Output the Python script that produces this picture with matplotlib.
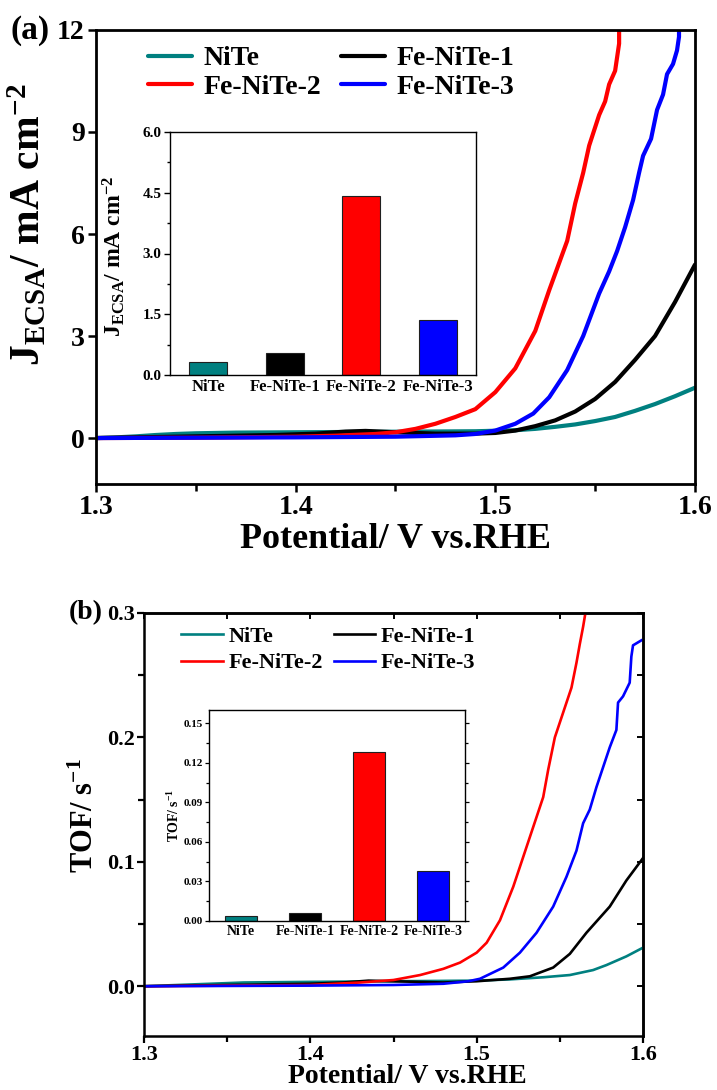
import numpy as np
import matplotlib
matplotlib.use("Agg")
import matplotlib.pyplot as plt
from matplotlib.ticker import MultipleLocator, FormatStrFormatter, NullFormatter

plt.rcParams['font.family'] = ['Liberation Serif', 'DejaVu Serif']
plt.rcParams['font.weight'] = 'bold'
plt.rcParams['axes.labelweight'] = 'bold'
plt.rcParams['mathtext.fontset'] = 'custom'
plt.rcParams['mathtext.rm'] = 'Liberation Serif:bold'
plt.rcParams['mathtext.bf'] = 'Liberation Serif:bold'
plt.rcParams['mathtext.it'] = 'Liberation Serif:bold'

names = ['NiTe', 'Fe-NiTe-1', 'Fe-NiTe-2', 'Fe-NiTe-3']
colors = ['#008080', '#000000', '#ff0000', '#0000ff']

# (a) J_ECSA curves
niTe_a_x = [1.300, 1.310, 1.320, 1.330, 1.340, 1.350, 1.370, 1.400, 1.430, 1.460, 1.490,
            1.510, 1.520, 1.530, 1.540, 1.550, 1.560, 1.570, 1.580, 1.590, 1.600]
niTe_a_y = [0.00, 0.02, 0.05, 0.09, 0.12, 0.14, 0.16, 0.17, 0.18, 0.19, 0.20,
            0.23, 0.27, 0.33, 0.40, 0.50, 0.62, 0.80, 1.00, 1.23, 1.48]
fe1_a_x = [1.300, 1.330, 1.360, 1.390, 1.410, 1.425, 1.435, 1.450, 1.470, 1.490, 1.500,
           1.510, 1.520, 1.530, 1.540, 1.550, 1.560, 1.570, 1.580, 1.590, 1.600]
fe1_a_y = [0.00, 0.03, 0.06, 0.09, 0.13, 0.19, 0.21, 0.17, 0.13, 0.13, 0.15,
           0.22, 0.35, 0.52, 0.78, 1.15, 1.65, 2.30, 3.00, 4.00, 5.10]
fe2_a_x = [1.300, 1.350, 1.400, 1.420, 1.440, 1.450, 1.460, 1.470, 1.480, 1.490, 1.500,
           1.510, 1.520, 1.527, 1.536, 1.540, 1.544, 1.547, 1.552, 1.555, 1.557, 1.560,
           1.561, 1.562, 1.562]
fe2_a_y = [0.00, 0.01, 0.04, 0.07, 0.12, 0.17, 0.27, 0.42, 0.62, 0.85, 1.35,
           2.05, 3.15, 4.35, 5.80, 6.90, 7.80, 8.60, 9.50, 9.90, 10.40, 10.80,
           11.20, 11.60, 12.50]
fe3_a_x = [1.300, 1.350, 1.400, 1.450, 1.480, 1.490, 1.500, 1.510, 1.519, 1.527, 1.536,
           1.544, 1.552, 1.557, 1.561, 1.565, 1.569, 1.572, 1.574, 1.578, 1.581, 1.584,
           1.586, 1.589, 1.591, 1.592, 1.592]
fe3_a_y = [0.00, 0.01, 0.02, 0.04, 0.08, 0.12, 0.22, 0.42, 0.72, 1.20, 2.00,
           3.00, 4.25, 4.90, 5.50, 6.20, 7.00, 7.80, 8.30, 8.80, 9.65, 10.10,
           10.70, 11.00, 11.40, 11.80, 12.50]

# (b) TOF curves
niTe_b_x = [1.300, 1.320, 1.340, 1.360, 1.400, 1.450, 1.500, 1.520, 1.540, 1.556, 1.570,
            1.578, 1.590, 1.600]
niTe_b_y = [0.000, 0.001, 0.002, 0.003, 0.0035, 0.004, 0.0045, 0.0055, 0.0072, 0.009, 0.013,
            0.017, 0.024, 0.031]
fe1_b_x = [1.300, 1.350, 1.400, 1.420, 1.435, 1.450, 1.480, 1.500, 1.520, 1.532, 1.546,
           1.556, 1.566, 1.580, 1.590, 1.600]
fe1_b_y = [0.000, 0.001, 0.002, 0.003, 0.0045, 0.004, 0.003, 0.004, 0.006, 0.008, 0.015,
           0.026, 0.043, 0.064, 0.085, 0.103]
fe2_b_x = [1.300, 1.400, 1.430, 1.450, 1.466, 1.480, 1.490, 1.500, 1.506, 1.514, 1.522,
           1.530, 1.536, 1.540, 1.543, 1.547, 1.552, 1.557, 1.560, 1.562, 1.564, 1.566]
fe2_b_y = [0.000, 0.001, 0.003, 0.005, 0.009, 0.014, 0.019, 0.027, 0.035, 0.053, 0.080,
           0.112, 0.136, 0.152, 0.174, 0.200, 0.220, 0.240, 0.260, 0.275, 0.289, 0.305]
fe3_b_x = [1.300, 1.400, 1.450, 1.480, 1.495, 1.502, 1.516, 1.526, 1.536, 1.546, 1.554,
           1.560, 1.564, 1.568, 1.572, 1.576, 1.580, 1.584, 1.585, 1.588, 1.592, 1.593,
           1.594, 1.599]
fe3_b_y = [0.000, 0.0005, 0.001, 0.002, 0.004, 0.006, 0.015, 0.027, 0.043, 0.064, 0.088,
           0.109, 0.131, 0.142, 0.160, 0.176, 0.192, 0.206, 0.228, 0.233, 0.244, 0.265,
           0.274, 0.278]

# inset bars
jecsa_bars = [0.32, 0.54, 4.42, 1.36]
tof_bars = [0.004, 0.006, 0.128, 0.038]

curves_a = [(niTe_a_x, niTe_a_y), (fe1_a_x, fe1_a_y), (fe2_a_x, fe2_a_y), (fe3_a_x, fe3_a_y)]
curves_b = [(niTe_b_x, niTe_b_y), (fe1_b_x, fe1_b_y), (fe2_b_x, fe2_b_y), (fe3_b_x, fe3_b_y)]

fig = plt.figure(figsize=(7.17, 10.90), dpi=100)

# ---------- panel (a) ----------
axa = fig.add_axes([0.1339, 0.556, 0.8354, 0.4165])
lines = []
for (x, y), c, n in zip(curves_a, colors, names):
    l, = axa.plot(x, y, color=c, lw=3.0, label=n, solid_capstyle='round')
    lines.append(l)
axa.set_xlim(1.3, 1.6)
axa.set_ylim(-1.35, 12)
axa.set_xticks([1.3, 1.4, 1.5, 1.6])
axa.xaxis.set_minor_locator(MultipleLocator(0.05))
axa.set_yticks([0, 3, 6, 9, 12])
axa.tick_params(axis='both', which='major', labelsize=20, length=6, width=1.8, direction='out', pad=2)
axa.tick_params(axis='x', which='minor', length=5, width=1.8, direction='out')
for s in axa.spines.values():
    s.set_linewidth(2.0)
axa.set_xlabel('Potential/ V vs.RHE', fontsize=26)
axa.xaxis.set_label_coords(0.5, -0.086)
axa.set_ylabel(r'$\mathrm{J_{ECSA}}$/ mA cm$^{\mathrm{-2}}$', fontsize=30)
axa.yaxis.set_label_coords(-0.078, 0.57)
order = [0, 2, 1, 3]
axa.legend([lines[i] for i in order], [names[i] for i in order], ncol=2, frameon=False,
           loc='upper left', bbox_to_anchor=(0.045, 1.02), fontsize=20,
           handlelength=1.6, handletextpad=0.4, columnspacing=0.7, labelspacing=0.1)
fig.text(10 / 717, 1 - 30 / 1090, '(a)', fontsize=24, fontweight='bold', va='center', ha='left')

# inset (a)
ia = fig.add_axes([170 / 717, 1 - 375 / 1090, 306 / 717, 243 / 1090])
ia.bar(range(4), jecsa_bars, width=0.5, color=colors, edgecolor='#202020', linewidth=0.8)
ia.set_xlim(-0.5, 3.5)
ia.set_ylim(0, 6)
ia.set_yticks([0, 1.5, 3.0, 4.5, 6.0])
ia.yaxis.set_major_formatter(FormatStrFormatter('%.1f'))
ia.yaxis.set_minor_locator(MultipleLocator(0.75))
ia.set_xticks(range(4))
ia.set_xticklabels(names)
ia.tick_params(axis='x', length=0, labelsize=12, pad=3)
ia.tick_params(axis='y', which='major', labelsize=11, length=4, width=1.0, pad=2)
ia.tick_params(axis='y', which='minor', length=2.5, width=1.0)
for s in ia.spines.values():
    s.set_linewidth(1.0)
ia.set_ylabel(r'$\mathrm{J_{ECSA}}$/ mA cm$^{\mathrm{-2}}$', fontsize=17)
ia.yaxis.set_label_coords(-0.14, 0.49)

# ---------- panel (b) ----------
axb = fig.add_axes([144 / 717, 1 - 1036 / 1090, 499 / 717, 423 / 1090])
lines = []
for (x, y), c, n in zip(curves_b, colors, names):
    l, = axb.plot(x, y, color=c, lw=1.9, label=n)
    lines.append(l)
axb.set_xlim(1.3, 1.6)
axb.set_ylim(-0.04, 0.3)
axb.set_xticks([1.3, 1.4, 1.5, 1.6])
axb.xaxis.set_minor_locator(MultipleLocator(0.05))
axb.set_yticks([0.0, 0.1, 0.2, 0.3])
axb.yaxis.set_major_formatter(FormatStrFormatter('%.1f'))
axb.yaxis.set_minor_locator(MultipleLocator(0.05))
axb.tick_params(axis='both', which='major', labelsize=16, length=5, width=1.6, direction='out', pad=1.5)
axb.tick_params(axis='both', which='minor', length=4, width=1.6, direction='out')
for s in axb.spines.values():
    s.set_linewidth(1.8)
# inward ticks on top and right
topx = axb.secondary_xaxis('top')
topx.set_xticks([1.3, 1.4, 1.5, 1.6])
topx.xaxis.set_minor_locator(MultipleLocator(0.05))
topx.xaxis.set_major_formatter(NullFormatter())
topx.tick_params(axis='x', which='both', direction='in', length=4, width=1.4)
righty = axb.secondary_yaxis('right')
righty.set_yticks([0.0, 0.1, 0.2, 0.3])
righty.yaxis.set_minor_locator(MultipleLocator(0.05))
righty.yaxis.set_major_formatter(NullFormatter())
righty.tick_params(axis='y', which='both', direction='in', length=4, width=1.4)
for sec in (topx, righty):
    for s in sec.spines.values():
        s.set_linewidth(1.8)
axb.set_xlabel('Potential/ V vs.RHE', fontsize=20)
axb.xaxis.set_label_coords(0.527, -0.066)
axb.set_ylabel(r'TOF/ s$^{\mathrm{-1}}$', fontsize=22)
axb.yaxis.set_label_coords(-0.088, 0.52)
axb.legend([lines[i] for i in order], [names[i] for i in order], ncol=2, frameon=False,
           loc='upper left', bbox_to_anchor=(0.035, 1.015), fontsize=16,
           handlelength=1.85, handletextpad=0.25, columnspacing=0.5, labelspacing=0.25)
fig.text(69 / 717, 1 - 613 / 1090, '(b)', fontsize=20, fontweight='bold', va='center', ha='left')

# inset (b)
ib = fig.add_axes([209 / 717, 1 - 921 / 1090, 256 / 717, 211 / 1090])
ib.bar(range(4), tof_bars, width=0.5, color=colors, edgecolor='#202020', linewidth=0.8)
ib.set_xlim(-0.5, 3.5)
ib.set_ylim(0, 0.16)
ib.set_yticks([0.0, 0.03, 0.06, 0.09, 0.12, 0.15])
ib.yaxis.set_major_formatter(FormatStrFormatter('%.2f'))
ib.yaxis.set_minor_locator(MultipleLocator(0.015))
ib.set_xticks(range(4))
ib.set_xticklabels(names)
ib.tick_params(axis='x', length=0, labelsize=10, pad=3)
ib.tick_params(axis='y', which='major', labelsize=8, length=3, width=0.9, pad=1.5, right=True)
ib.tick_params(axis='y', which='minor', length=2, width=0.9, right=True)
for s in ib.spines.values():
    s.set_linewidth(1.0)
ib.set_ylabel(r'TOF/ s$^{\mathrm{-1}}$', fontsize=10)
ib.yaxis.set_label_coords(-0.105, 0.5)

fig.savefig('out.png', dpi=100)
